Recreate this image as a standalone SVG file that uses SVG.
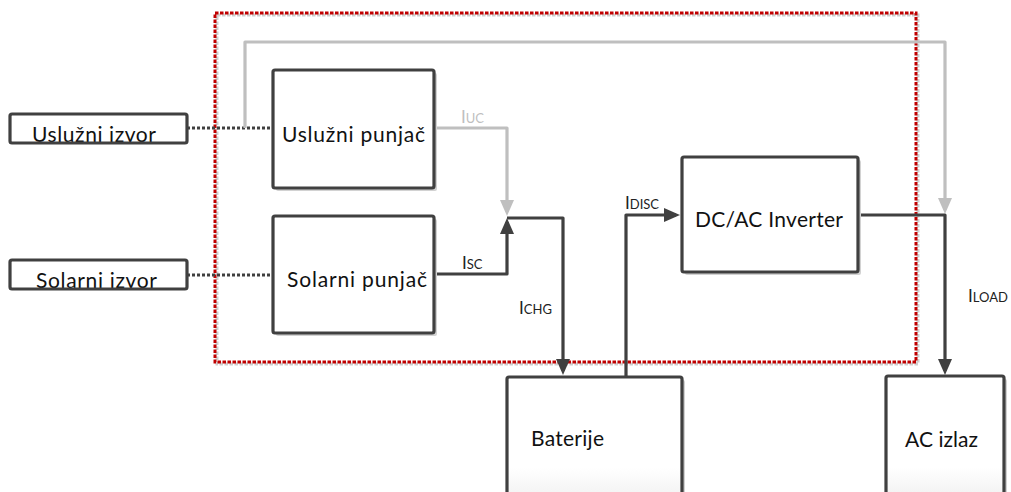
<svg xmlns="http://www.w3.org/2000/svg" width="1011" height="492" viewBox="0 0 1011 492">
<style>
.box{fill:#fff;stroke:#404040;stroke-width:3.2;}
.shadow{fill:#d2d2d2;}
.lbl{font-family:Lato,"Liberation Sans",sans-serif;font-size:21px;fill:#111;}
.sub{font-family:Lato,"Liberation Sans",sans-serif;font-size:17px;fill:#222;}
.dark{fill:none;stroke:#404040;stroke-width:3.2;stroke-linejoin:round;}
.gray{fill:none;stroke:#bfbfbf;stroke-width:3.2;stroke-linejoin:round;}
.dot{fill:none;stroke:#404040;stroke-width:3;stroke-dasharray:3,2;}
</style>
<defs>
<marker id="ad" viewBox="0 0 16 14" refX="12" refY="7" markerWidth="16" markerHeight="14" markerUnits="userSpaceOnUse" orient="auto"><path d="M0,0 L16,7 L0,14 z" fill="#404040"/></marker>
<marker id="ag" viewBox="0 0 16 14" refX="12" refY="7" markerWidth="16" markerHeight="14" markerUnits="userSpaceOnUse" orient="auto"><path d="M0,0 L16,7 L0,14 z" fill="#bfbfbf"/></marker>
<linearGradient id="fade" x1="0" y1="0" x2="0" y2="1"><stop offset="0.7" stop-color="#fff"/><stop offset="1" stop-color="#eeeeee"/></linearGradient>
</defs>

<g id="boundary">
<rect x="217" y="15" width="701" height="349" fill="none" stroke="#cfcfcf" stroke-width="3" stroke-dasharray="3.5,1.5"/>
<rect x="215" y="13" width="701" height="349" fill="none" stroke="#c00000" stroke-width="3" stroke-dasharray="3.5,1.5"/>
</g>

<g id="connectors">
<path class="dot" d="M187,128 H273"/>
<path class="dot" d="M187,275 H273"/>
<path class="gray" d="M245,128 V42 H945 V210" marker-end="url(#ag)"/>
<path class="gray" d="M434,128 H507 V212" marker-end="url(#ag)"/>
<path class="dark" d="M434,274 H507 V222" marker-end="url(#ad)"/>
<path class="dark" d="M507,218 H563 V371" marker-end="url(#ad)"/>
<path class="dark" d="M626,377 V215 H676" marker-end="url(#ad)"/>
<path class="dark" d="M858,215 H945 V371" marker-end="url(#ad)"/>
<text x="461" y="123" class="sub" style="fill:#bfbfbf">I<tspan font-size="13">UC</tspan></text>
<text x="462" y="269" class="sub">I<tspan font-size="13">SC</tspan></text>
<text x="519" y="314" class="sub">I<tspan font-size="13">CHG</tspan></text>
<text x="625" y="209" class="sub">I<tspan font-size="13">DISC</tspan></text>
<text x="968" y="302" class="sub">I<tspan font-size="13">LOAD</tspan></text>
</g>

<g id="uslužni-izvor">
<text class="lbl" x="32" y="142" textLength="124">Uslužni izvor</text>
<rect x="10" y="114" width="177" height="29" rx="2" fill="none" stroke="#404040" stroke-width="3.2"/>
</g>
<g id="solarni-izvor">
<text class="lbl" x="36" y="288" textLength="121">Solarni izvor</text>
<rect x="10" y="260" width="177" height="29" rx="2" fill="none" stroke="#404040" stroke-width="3.2"/>
</g>
<g id="uslužni-punjač">
<rect class="shadow" x="276" y="73" width="161" height="118" rx="2"/>
<rect class="box" x="273" y="70" width="161" height="118" rx="2"/>
<text class="lbl" x="282" y="142" textLength="143">Uslužni punjač</text>
</g>
<g id="solarni-punjač">
<rect class="shadow" x="276" y="219" width="161" height="117" rx="2"/>
<rect class="box" x="273" y="216" width="161" height="117" rx="2"/>
<text class="lbl" x="287" y="287" textLength="140">Solarni punjač</text>
</g>
<g id="inverter">
<rect class="shadow" x="685" y="160" width="176" height="115" rx="2"/>
<rect class="box" x="682" y="157" width="176" height="115" rx="2"/>
<text class="lbl" x="695" y="227" textLength="148">DC/AC Inverter</text>
</g>
<g id="baterije">
<rect class="shadow" x="510" y="380" width="175" height="130" rx="2"/>
<rect class="box" x="507" y="377" width="175" height="130" rx="2" style="fill:url(#fade)"/>
<text class="lbl" x="531" y="446" textLength="73">Baterije</text>
</g>
<g id="ac-izlaz">
<rect class="shadow" x="889" y="379" width="118" height="130" rx="2"/>
<rect class="box" x="886" y="376" width="118" height="130" rx="2" style="fill:url(#fade)"/>
<text class="lbl" x="905" y="447" textLength="73">AC izlaz</text>
</g>
</svg>
